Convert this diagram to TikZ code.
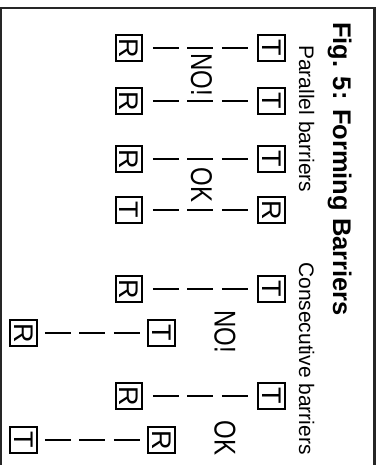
\documentclass[tikz,border=0pt]{standalone}
\usepackage{fontspec}
\setmainfont{Liberation Sans}
\newfontfamily\condf{Liberation Sans}[FakeStretch=0.8]
\begin{document}
\begin{tikzpicture}[x=1pt,y=-1pt,
  box/.style={draw=black, line width=2pt, minimum size=26.5pt, inner sep=0pt,
    font=\fontsize{27}{27}\selectfont},
  conn/.style={line width=1.7pt, dash pattern=on 26pt off 8.5pt,
    shorten <=9.5pt, shorten >=9.5pt},
  connshort/.style={conn, shorten <=7pt, shorten >=7pt},
  lbl/.style={rotate=-90, inner sep=0pt, font=\condf\fontsize{30}{30}\selectfont},
  ttl/.style={rotate=-90, anchor=base west, inner sep=0pt}
]
\useasboundingbox (0,0) rectangle (382,465);
\begin{scope}
  \clip (0,0) rectangle (382,465);
  \draw[line width=2.2pt, draw=black!85] (1,8) rectangle (374.5,490);
\end{scope}

% titles
\node[ttl, font=\bfseries\fontsize{25.5}{25.5}\selectfont] (title) at (333,22) {Fig. 5: Forming Barriers};
\node[ttl, font=\fontsize{21}{21}\selectfont] (par) at (299,45) {Parallel barriers};
\node[ttl, font=\fontsize{21}{21}\selectfont] (cons) at (299,262) {Consecutive barriers};

% parallel NO!
\node[box] (pT1) at (271.5,48) {\rotatebox{-90}{T}};
\node[box] (pT2) at (271.5,101) {\rotatebox{-90}{T}};
\node[box] (pR1) at (129,48) {\rotatebox{-90}{R}};
\node[box] (pR2) at (129,101) {\rotatebox{-90}{R}};
\draw[conn] (pR1) -- (pT1);
\draw[conn] (pR2) -- (pT2);
\node[lbl] (pno) at (201.5,74.5) {NO!};

% parallel OK
\node[box] (oT1) at (271.5,159) {\rotatebox{-90}{T}};
\node[box] (oR2) at (271.5,210) {\rotatebox{-90}{R}};
\node[box] (oR1) at (129,159) {\rotatebox{-90}{R}};
\node[box] (oT2) at (129,210) {\rotatebox{-90}{T}};
\draw[conn] (oR1) -- (oT1);
\draw[conn] (oT2) -- (oR2);
\node[lbl] (pok) at (201.5,185) {OK};

% consecutive NO!
\node[box] (cT1) at (271.5,289) {\rotatebox{-90}{T}};
\node[box] (cR1) at (129,289) {\rotatebox{-90}{R}};
\node[box] (cT2) at (161.5,333) {\rotatebox{-90}{T}};
\node[box] (cR2) at (23.5,333) {\rotatebox{-90}{R}};
\draw[conn] (cR1) -- (cT1);
\draw[connshort] (cR2) -- (cT2);
\node[lbl] (cno) at (225,332) {NO!};

% consecutive OK
\node[box] (dT1) at (271.5,396) {\rotatebox{-90}{T}};
\node[box] (dR1) at (129,396) {\rotatebox{-90}{R}};
\node[box] (dR2) at (161.5,440) {\rotatebox{-90}{R}};
\node[box] (dT2) at (23.5,440) {\rotatebox{-90}{T}};
\draw[conn] (dR1) -- (dT1);
\draw[connshort] (dT2) -- (dR2);
\node[lbl] (cok) at (225,438) {OK};
\end{tikzpicture}
\end{document}
